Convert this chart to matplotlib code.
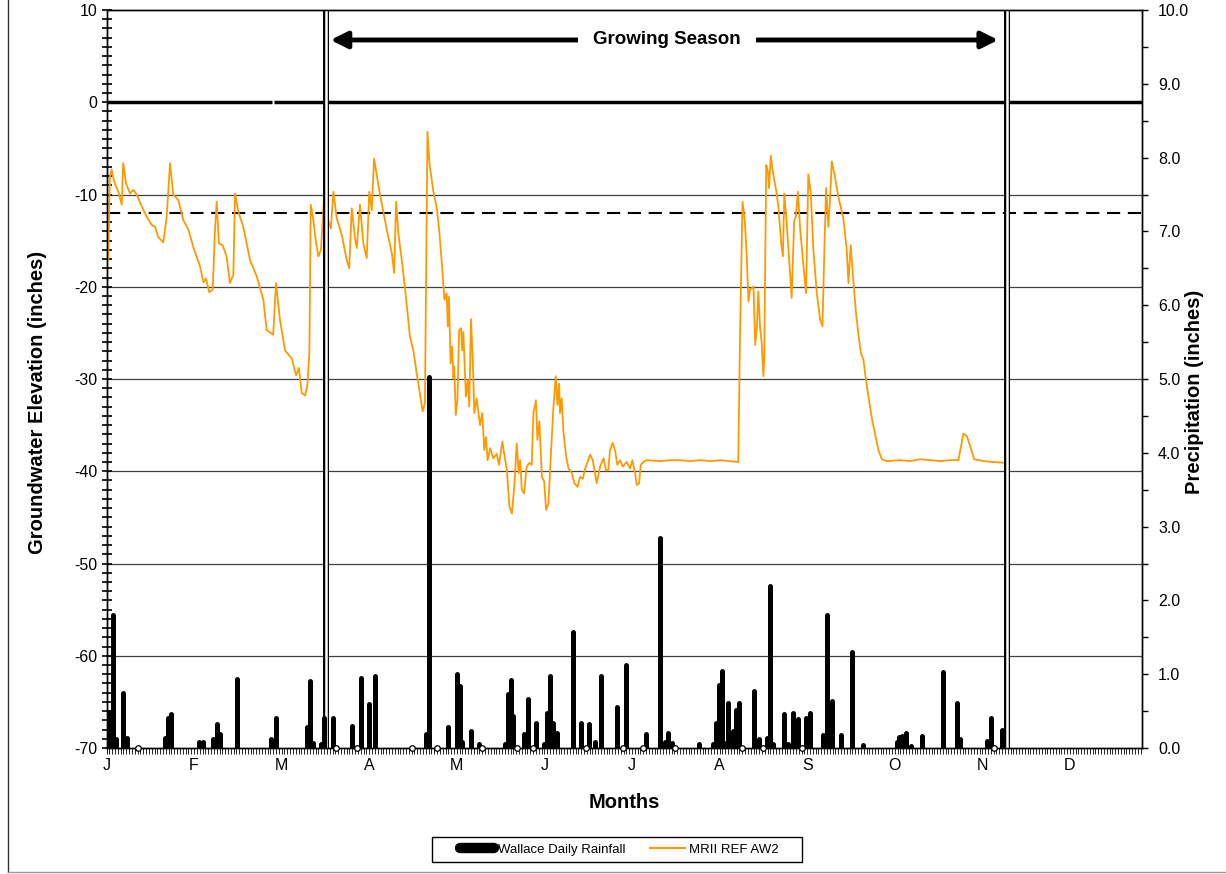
import matplotlib
matplotlib.use('Agg')
import matplotlib.pyplot as plt
from matplotlib.lines import Line2D
from matplotlib.patches import Rectangle
from matplotlib.ticker import MultipleLocator, FormatStrFormatter

plt.rcParams['font.family'] = 'Liberation Sans'
plt.rcParams['axes.unicode_minus'] = False
plt.rcParams['lines.scale_dashes'] = False

# month labels every 31 days along the day axis
month_days = [0, 31, 62, 93, 124, 155, 186, 217, 248, 279, 310, 341]
month_labels = ['J', 'F', 'M', 'A', 'M', 'J', 'J', 'A', 'S', 'O', 'N', 'D']

# MRII REF AW2 groundwater elevation (inches)
gw_day = [0.2, 0.6, 1.2, 1.8, 2.7, 4.2, 5.4, 5.9, 6.9, 8.3, 9.5, 10.7, 12.5, 14.2, 16.0,
          17.2, 18.3, 20.1, 21.3, 22.5, 23.6, 25.4, 27.2, 29.0, 30.7, 33.1, 34.3, 35.2, 36.4,
          37.6, 38.4, 39.0, 39.8, 41.1, 42.5, 43.7, 44.9, 45.5, 46.7, 48.4, 50.8, 53.2, 55.5,
          56.7, 59.0, 60.0, 61.4, 63.2, 65.6, 67.1, 68.1, 69.1, 70.3, 71.1, 71.8, 72.3, 73.2,
          74.2, 75.0, 75.9, 77.0, 77.9, 79.4, 80.3, 81.5, 83.3, 85.0, 85.9, 86.8, 88.0, 88.6,
          89.7, 90.9, 92.1, 93.0, 93.9, 94.7, 96.8, 99.2, 101.0, 101.8, 102.5, 103.3, 104.5,
          105.7, 107.4, 108.6, 109.8, 111.0, 111.9, 112.7, 113.6, 114.3, 115.7, 116.9, 117.8,
          118.7, 119.6, 120.4, 120.8, 121.2, 121.8, 122.3, 122.8, 123.1, 123.6, 124.2, 124.8,
          125.5, 125.9, 126.3, 127.2, 127.9, 128.4, 129.0, 129.6, 130.2, 131.0, 132.2, 133.0,
          133.7, 134.3, 134.9, 135.8, 136.9, 138.1, 138.9, 140.1, 141.7, 142.6, 143.5, 144.4,
          145.2, 145.9, 146.4, 147.0, 147.8, 148.7, 149.7, 150.5, 151.1, 152.0, 152.5, 153.2,
          154.1, 154.9, 155.6, 156.4, 157.3, 158.2, 159.0, 159.6, 160.2, 160.5, 161.1, 161.7,
          162.7, 163.5, 164.7, 165.6, 166.7, 167.6, 168.6, 169.4, 171.2, 172.1, 172.9, 173.5,
          174.7, 175.9, 176.8, 177.6, 178.2, 179.2, 180.1, 180.8, 181.8, 182.7, 184.1, 185.3,
          186.1, 187.1, 187.7, 188.5, 189.1, 190.0, 191.2, 195.9, 199.5, 203.0, 206.6, 210.1,
          213.8, 217.2, 220.5, 223.6, 224.2, 225.1, 225.9, 226.6, 227.2, 227.8, 229.0, 229.6,
          230.2, 230.7, 231.3, 231.9, 232.5, 232.8, 233.5, 234.1, 234.5, 235.1, 235.8, 237.0,
          237.8, 238.8, 239.4, 239.9, 240.8, 241.7, 242.5, 243.4, 244.0, 244.7, 245.5, 246.7,
          247.6, 248.4, 249.3, 250.2, 251.4, 252.6, 253.4, 254.1, 254.7, 255.5, 256.1, 256.7,
          257.9, 259.0, 260.8, 262.0, 262.6, 263.4, 264.4, 265.3, 266.1, 267.0, 267.9, 268.8,
          269.7, 270.9, 272.0, 273.2, 274.4, 276.2, 280.9, 284.5, 288.0, 291.5, 295.0, 298.4,
          301.5, 303.3, 304.5, 305.7, 307.1, 310.4, 313.9, 318.7]
gw_in = [-16.6, -17.1, -8.1, -7.3, -8.6, -9.7, -11.1, -6.6, -8.8, -9.9, -9.5, -10.0, -11.3,
         -12.4, -13.3, -13.5, -14.6, -15.2, -12.4, -6.6, -10.0, -10.6, -12.8, -13.8, -15.7,
         -17.8, -19.5, -19.1, -20.6, -20.3, -13.8, -10.8, -15.3, -15.5, -16.7, -19.6, -18.7,
         -9.9, -11.9, -13.5, -17.1, -18.9, -21.4, -24.7, -25.2, -19.6, -23.6, -26.9, -27.8,
         -29.6, -28.8, -31.5, -31.8, -30.6, -27.2, -11.1, -12.8, -15.3, -16.7, -16.0, -10.4,
         -12.2, -13.7, -9.7, -12.6, -14.4, -17.1, -18.0, -11.5, -14.8, -15.8, -11.1, -15.3,
         -16.9, -9.7, -11.7, -6.1, -10.0, -13.8, -16.4, -18.5, -10.8, -14.2, -17.1, -20.3,
         -25.4, -26.9, -29.4, -31.7, -33.5, -32.6, -3.2, -6.6, -9.7, -11.5, -14.0, -17.5,
         -21.4, -20.7, -24.3, -21.1, -28.3, -26.5, -29.9, -28.7, -33.9, -32.3, -24.7, -24.5,
         -26.9, -24.9, -31.9, -30.1, -33.0, -23.5, -27.6, -33.7, -32.1, -35.0, -33.7, -37.7,
         -36.3, -38.8, -37.5, -38.6, -38.1, -39.3, -36.8, -39.9, -43.8, -44.6, -41.3, -37.0,
         -40.2, -38.8, -42.0, -42.4, -39.5, -39.1, -39.3, -33.7, -32.3, -36.6, -34.6, -40.6,
         -41.1, -44.2, -43.5, -38.1, -33.0, -29.7, -32.8, -30.5, -33.7, -32.1, -35.7, -38.4,
         -39.7, -40.2, -41.3, -41.7, -40.6, -40.8, -39.7, -38.2, -38.8, -40.2, -41.3, -39.5,
         -38.6, -39.9, -39.9, -37.7, -36.9, -37.9, -39.3, -38.8, -39.5, -39.0, -39.7, -38.8,
         -40.2, -41.5, -41.3, -39.3, -39.0, -38.8, -38.9, -38.8, -38.8, -38.9, -38.8, -38.9,
         -38.8, -38.9, -39.0, -25.8, -10.8, -12.8, -16.6, -21.6, -20.3, -20.0, -26.3, -24.3,
         -20.5, -24.3, -26.1, -29.7, -27.6, -6.8, -7.5, -9.3, -5.8, -7.5, -9.5, -11.3, -15.3,
         -16.7, -9.9, -13.3, -17.5, -21.2, -12.8, -12.4, -9.7, -13.7, -17.8, -20.7, -7.8,
         -10.0, -16.0, -20.7, -23.6, -24.3, -15.7, -9.3, -13.5, -10.4, -6.4, -8.2, -10.2,
         -12.6, -16.0, -19.6, -15.5, -19.6, -22.9, -25.1, -27.2, -27.9, -30.1, -31.9, -34.3,
         -35.9, -37.7, -38.7, -38.9, -38.8, -38.9, -38.7, -38.8, -38.9, -38.8, -38.8, -35.9,
         -36.2, -37.3, -38.7, -38.9, -39.0, -39.1]

# Wallace daily rainfall (inches); 0.0 entries are drawn as open circles
rain_day = [1.0, 2.2, 3.4, 5.9, 7.2, 11.0, 20.7, 21.7, 22.8, 32.8, 34.1, 37.8, 39.0, 40.2,
            46.1, 58.1, 60.0, 70.9, 72.0, 73.2, 75.9, 77.1, 80.1, 81.2, 87.0, 88.8, 90.0,
            93.0, 95.0, 108.0, 113.0, 114.2, 117.1, 121.0, 124.0, 125.1, 125.9, 128.9, 131.9,
            133.0, 141.1, 142.0, 143.1, 144.0, 145.2, 147.9, 149.1, 150.9, 152.0, 155.0,
            155.8, 157.0, 158.2, 159.4, 165.0, 168.0, 169.7, 170.9, 172.9, 174.9, 180.8,
            182.7, 183.9, 189.8, 191.0, 195.9, 197.5, 198.9, 200.1, 201.2, 209.8, 214.6,
            215.6, 216.8, 218.0, 219.2, 219.9, 221.7, 222.7, 223.9, 225.1, 229.0, 231.0,
            232.3, 233.9, 234.9, 236.0, 239.8, 241.2, 242.8, 244.9, 246.1, 247.6, 249.0,
            253.7, 254.9, 256.9, 259.9, 264.0, 267.9, 279.7, 280.6, 281.7, 282.9, 284.8,
            288.8, 296.0, 301.0, 302.1, 311.8, 313.0, 314.1, 316.9]
rain_in = [0.49, 1.80, 0.12, 0.74, 0.13, 0.0, 0.14, 0.41, 0.46, 0.08, 0.08, 0.12, 0.33, 0.19,
           0.93, 0.12, 0.41, 0.28, 0.91, 0.07, 0.06, 0.41, 0.41, 0.0, 0.30, 0.0, 0.95,
           0.60, 0.97, 0.0, 0.19, 5.03, 0.0, 0.28, 1.00, 0.84, 0.08, 0.23, 0.06,
           0.0, 0.06, 0.73, 0.92, 0.43, 0.0, 0.19, 0.67, 0.0, 0.34, 0.06,
           0.48, 0.98, 0.34, 0.20, 1.57, 0.34, 0.0, 0.32, 0.08, 0.98, 0.55,
           0.0, 1.12, 0.0, 0.19, 2.85, 0.08, 0.20, 0.07, 0.0, 0.06, 0.06,
           0.34, 0.86, 1.04, 0.07, 0.61, 0.23, 0.51, 0.61, 0.0, 0.77, 0.12,
           0.0, 0.13, 2.20, 0.06, 0.46, 0.06, 0.48, 0.39, 0.0, 0.40, 0.48,
           0.18, 1.80, 0.64, 0.17, 1.30, 0.04, 0.08, 0.15, 0.16, 0.20, 0.03,
           0.16, 1.03, 0.61, 0.12, 0.10, 0.40, 0.0, 0.24]

grid_levels = [-60, -50, -40, -30, -20, -10]
threshold = -12
season_start = 77.6
season_end = 318.8

fig = plt.figure(figsize=(12.26, 8.74), dpi=100)
ax = fig.add_axes([106.5 / 1226, 1 - 748 / 874, 1035.5 / 1226, 738 / 874])
ax.set_xlim(0, 366.5)
ax.set_ylim(-70, 10)

ax.hlines(grid_levels, 0, 366.5, color='#404040', lw=0.9, zorder=1)
ax.plot([0, 58.6], [0, 0], color='k', lw=2.5, solid_capstyle='butt', zorder=2)
ax.plot([59.3, 366.5], [0, 0], color='k', lw=2.5, solid_capstyle='butt', zorder=2)
ax.axhline(threshold, color='k', lw=1.5, dashes=(9.5, 5.5), zorder=2)

ax.plot(gw_day, gw_in, color='#FF9900', lw=1.3, zorder=3)

for d in [season_start, season_end]:
    ax.axvline(d, color='k', lw=4.3, zorder=4)
    ax.axvline(d, color='white', lw=1.8, zorder=4)

ax.annotate('', xy=(79.3, 6.75), xytext=(315.6, 6.75),
            arrowprops=dict(arrowstyle='<|-|>,head_length=0.5,head_width=0.25',
                            lw=3.5, color='k', mutation_scale=20, shrinkA=0, shrinkB=0))
ax.text(198.4, 6.75, 'Growing Season', ha='center', va='center', fontsize=13.5,
        fontweight='bold', bbox=dict(facecolor='white', edgecolor='none',
                                     boxstyle='square,pad=0.8'))

ax.yaxis.set_major_locator(MultipleLocator(10))
ax.yaxis.set_minor_locator(MultipleLocator(1))
ax.tick_params(axis='y', which='both', direction='inout', length=7, width=1.2,
               labelsize=11.5, pad=3)
ax.set_xticks(month_days, month_labels)
ax.xaxis.set_minor_locator(MultipleLocator(1))
ax.tick_params(axis='x', which='both', direction='out', length=4, width=0.6,
               labelsize=11.5, pad=3)

ax2 = ax.twinx()
ax2.set_ylim(0, 10)
bar_day = [d for d, r in zip(rain_day, rain_in) if r > 0]
bar_in = [r for r in rain_in if r > 0]
bars = ax2.vlines(bar_day, 0, bar_in, color='k', lw=3.6, zorder=3)
bars.set_capstyle('round')
trace_day = [d for d, r in zip(rain_day, rain_in) if r == 0]
trace_in = [r for r in rain_in if r == 0]
ax2.plot(trace_day, trace_in, 'o', ms=4, mfc='white', mec='k', mew=0.9, clip_on=False,
         zorder=4)
ax2.yaxis.set_major_locator(MultipleLocator(1))
ax2.yaxis.set_minor_locator(MultipleLocator(0.5))
ax2.yaxis.set_major_formatter(FormatStrFormatter('%.1f'))
ax2.tick_params(axis='y', which='both', direction='out', length=4.5, width=1,
                labelsize=11.5, pad=7)

for a in (ax, ax2):
    for s in a.spines.values():
        s.set_linewidth(1)

fig.text(38 / 1226, 1 - 402 / 874, 'Groundwater Elevation (inches)', rotation=90,
         ha='center', va='center', fontsize=14.5, fontweight='bold')
fig.text(1195 / 1226, 1 - 392 / 874, 'Precipitation (inches)', rotation=90,
         ha='center', va='center', fontsize=14.5, fontweight='bold')
fig.text(624 / 1226, 1 - 802 / 874, 'Months', ha='center', va='center', fontsize=14.5,
         fontweight='bold')

handles = [Line2D([], [], color='k', lw=7.5, solid_capstyle='round'),
           Line2D([], [], color='#FF9900', lw=1.5)]
fig.legend(handles, ['Wallace Daily Rainfall', 'MRII REF AW2'], loc='center',
           bbox_to_anchor=(619 / 1226, 1 - 849.5 / 874), ncol=2, frameon=False,
           fontsize=9.5, handlelength=2.6, handletextpad=0.3, columnspacing=1.9)
fig.add_artist(Rectangle((432 / 1226, 1 - 862 / 874), 370 / 1226, 25 / 874,
                         transform=fig.transFigure, fill=False, edgecolor='k', lw=1))

fig.add_artist(Line2D([7.5 / 1226, 7.5 / 1226], [1, 1 - 872 / 874],
                      transform=fig.transFigure, color='#333333', lw=1))
fig.add_artist(Line2D([7.5 / 1226, 1], [1 - 872 / 874, 1 - 872 / 874],
                      transform=fig.transFigure, color='#999999', lw=1))

fig.savefig('out.png', dpi=100)
